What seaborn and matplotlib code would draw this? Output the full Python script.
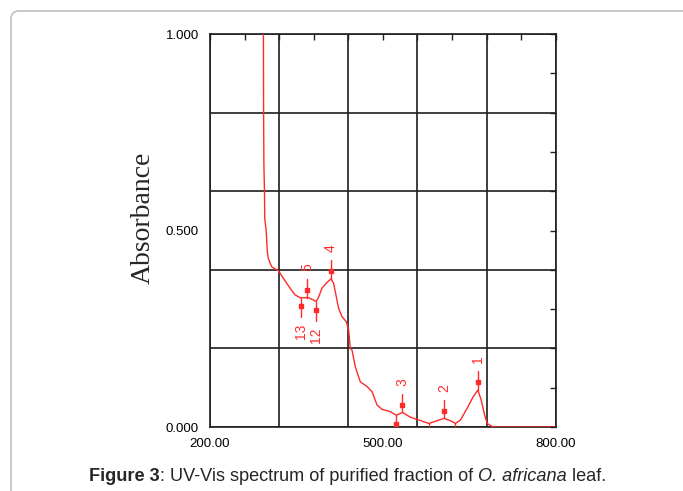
import numpy as np
import pandas as pd
import matplotlib
matplotlib.use("Agg")
import matplotlib.pyplot as plt
from matplotlib.patches import FancyBboxPatch
import seaborn as sns

# spectrum (nm, absorbance)
wavelength = [292.4, 292.7, 293.0, 293.5, 294.5, 295.0, 297.5, 298.6, 299.5, 301.0,
              303.5, 307.0, 312.0, 318.8, 327.5, 339.1, 347.8, 356.5, 364.0, 371.0,
              379.7, 384.3, 388.4, 394.2, 401.7, 409.9, 414.5, 419.1, 423.2, 429.0,
              436.5, 440.6, 443.5, 446.4, 452.2, 460.9, 472.5, 481.2, 489.9, 498.6,
              513.0, 523.5, 534.0, 547.8, 562.3, 579.7, 594.2, 605.8, 617.4, 626.0,
              634.8, 646.4, 656.8, 664.9, 670.7, 676.5, 681.2, 690.0, 698.6, 800.0]
absorbance = [1.50, 1.00, 0.80, 0.67, 0.60, 0.53, 0.50, 0.468, 0.445, 0.430,
              0.420, 0.408, 0.403, 0.398, 0.378, 0.353, 0.336, 0.329, 0.329, 0.329,
              0.323, 0.319, 0.330, 0.353, 0.366, 0.377, 0.366, 0.332, 0.302, 0.281,
              0.268, 0.247, 0.200, 0.196, 0.153, 0.115, 0.103, 0.090, 0.056, 0.045,
              0.039, 0.030, 0.037, 0.025, 0.018, 0.009, 0.016, 0.022, 0.016, 0.009,
              0.018, 0.048, 0.077, 0.094, 0.069, 0.031, 0.009, 0.001, 0.000, 0.000]

# picked peaks
peak_labels = ["1", "2", "3", "4", "5"]
peak_wl = [664.9, 605.8, 534.0, 409.9, 369.0]
peak_abs = [0.094, 0.022, 0.037, 0.377, 0.329]

# picked valleys
valley_labels = ["12", "13"]
valley_wl = [384.3, 358.0]
valley_abs = [0.319, 0.329]

# valleys near the baseline (labels fall outside the frame)
low_valley_wl = [523.5, 579.7, 626.0]
low_valley_abs = [0.030, 0.009, 0.009]

x_major = [200, 320, 440, 560, 680, 800]
x_minor = [260, 380, 500, 620, 740]
y_major = [0.0, 0.2, 0.4, 0.6, 0.8, 1.0]
y_minor = [0.1, 0.3, 0.5, 0.7, 0.9]
x_text = {200: "200.00", 500: "500.00", 800: "800.00"}
y_text = {0.0: "0.000", 0.5: "0.500", 1.0: "1.000"}

# caption pieces: (text, weight, style)
caption = [("Figure 3", "bold", "normal"),
           (": UV-Vis spectrum of purified fraction of ", "normal", "normal"),
           ("O. africana", "normal", "italic"),
           (" leaf.", "normal", "normal")]

RED = "#ff2a2a"

sns.set_theme(style="white")
plt.rcParams["font.family"] = ["Liberation Sans", "DejaVu Sans"]

fig = plt.figure(figsize=(6.83, 4.91), dpi=100)
ax = fig.add_axes([0.3075, 0.1303, 0.5061, 0.8004])

df = pd.DataFrame({"wavelength": wavelength, "absorbance": absorbance})
sns.lineplot(data=df, x="wavelength", y="absorbance", ax=ax, color=RED,
             lw=1.0, sort=False, zorder=3)

# peak / valley markers
for lab, wl, a in zip(peak_labels, peak_wl, peak_abs):
    ax.plot([wl, wl], [a, a + 0.048], color=RED, lw=1.0, zorder=3)
    ax.plot(wl, a + 0.02, marker="s", ms=3.5, color=RED, zorder=3)
    ax.text(wl, a + 0.068, lab, color=RED, fontsize=10, rotation=90,
            ha="center", va="bottom")
for lab, wl, a in zip(valley_labels, valley_wl, valley_abs):
    ax.plot([wl, wl], [a, a - 0.05], color=RED, lw=1.0, zorder=3)
    ax.plot(wl, a - 0.022, marker="s", ms=3.5, color=RED, zorder=3)
    ax.text(wl, a - 0.066, lab, color=RED, fontsize=10, rotation=90,
            ha="center", va="top")
for wl, a in zip(low_valley_wl, low_valley_abs):
    ax.plot([wl, wl], [a, a - 0.05], color=RED, lw=1.0, zorder=3)
    ax.plot(wl, a - 0.022, marker="s", ms=3.5, color=RED, zorder=3)

ax.set_xlim(200, 800)
ax.set_ylim(0, 1)
ax.set_xticks(x_major, labels=[x_text.get(v, "") for v in x_major])
ax.set_xticks(x_minor, labels=[x_text.get(v, "") for v in x_minor], minor=True)
ax.set_yticks(y_major, labels=[y_text.get(v, "") for v in y_major])
ax.set_yticks(y_minor, labels=[y_text.get(v, "") for v in y_minor], minor=True)
ax.tick_params(which="both", direction="in", length=4, width=1.0, color="#222222",
               top=True, right=True, labelsize=9.5, pad=8, labelcolor="black")
ax.grid(True, which="major", color="#1e1e1e", lw=1.2)
for s in ax.spines.values():
    s.set_color("#1e1e1e")
    s.set_linewidth(1.2)
ax.set_xlabel("")
ax.set_ylabel("")

fig.text(143 / 683, 0.556, "Absorbance", rotation=90, ha="center", va="center",
         fontsize=20, family=["Liberation Serif", "DejaVu Serif"])

# caption, drawn piece by piece so the styles can mix
fig.canvas.draw()
renderer = fig.canvas.get_renderer()
pieces = []
for txt, wt, st in caption:
    t = fig.text(0, 0.0305, txt, fontsize=13.1, fontweight=wt, fontstyle=st,
                 ha="left", va="center")
    pieces.append(t)
widths = [t.get_window_extent(renderer).width for t in pieces]
x0 = 347.5 - sum(widths) / 2
for t, w in zip(pieces, widths):
    t.set_x(x0 / 683)
    x0 += w

# light rounded frame around the figure panel
frame = FancyBboxPatch((11, -30), 690, 510, boxstyle="round,pad=0,rounding_size=8",
                       transform=None, fill=False, edgecolor="#c4c4c4", lw=1.3)
fig.patches.append(frame)

fig.savefig("out.png", dpi=100)
plt.close(fig)
